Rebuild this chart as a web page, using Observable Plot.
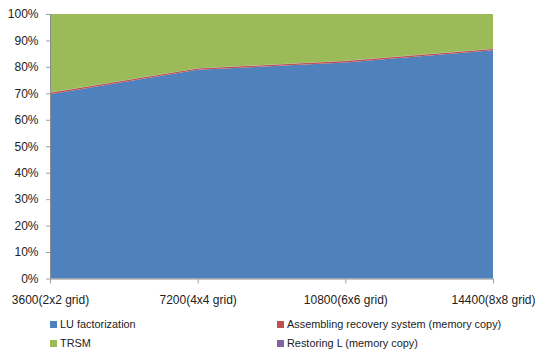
<!DOCTYPE html>
<html>
<head>
<meta charset="utf-8">
<script src="https://cdn.jsdelivr.net/npm/d3@7"></script>
<script src="https://cdn.jsdelivr.net/npm/@observablehq/plot@0.6"></script>
<style>
  body { margin: 0; background: #fff; font-family: "Liberation Sans", Arial, sans-serif; }
  #chart { position: relative; width: 535px; height: 351px; overflow: hidden; }
  #chart svg { position: absolute; left: 0; top: 0; }
  .item { position: absolute; font-size: 10.9px; color: #222; line-height: 14px; white-space: nowrap; display: flex; align-items: center; }
  .swatch { width: 7px; height: 7px; margin-right: 3px; display: inline-block; }
</style>
</head>
<body>
<div id="chart"></div>
<script>
// Problem sizes (matrix order) and their process-grid labels
const problemSizes = [3600, 7200, 10800, 14400];
const sizeLabels = ["3600(2x2 grid)", "7200(4x4 grid)", "10800(6x6 grid)", "14400(8x8 grid)"];

// Phases, in stacking order from the bottom up
const phases = [
  "LU factorization",
  "Assembling recovery system (memory copy)",
  "Restoring L (memory copy)",
  "TRSM"
];
const phaseColors = ["#4F81BD", "#C0504D", "#8064A2", "#9BBB59"];

// Share of total time (%) per phase at each problem size
const luShare = [69.7, 78.9, 81.7, 86.3];
const assemblingShare = [0.5, 0.5, 0.5, 0.5];
const restoringShare = [0.1, 0.1, 0.1, 0.1];
const trsmShare = [29.7, 20.5, 17.7, 13.1];

// Percent ticks on the vertical axis
const percentTicks = [0, 10, 20, 30, 40, 50, 60, 70, 80, 90, 100];

// Long-format table for the stacked area
const shares = [luShare, assemblingShare, restoringShare, trsmShare];
const rows = [];
phases.forEach((phase, p) => {
  problemSizes.forEach((size, i) => rows.push({ phase, size, share: shares[p][i] }));
});
const labelOf = new Map(problemSizes.map((s, i) => [s, sizeLabels[i]]));

const chart = Plot.plot({
  width: 535,
  height: 312,
  marginTop: 14,
  marginBottom: 33.5,
  marginLeft: 50,
  marginRight: 42,
  style: { fontFamily: "'Liberation Sans', Arial, sans-serif", fontSize: "12px", color: "#222", background: "#fff" },
  x: { domain: [3600, 14400] },
  y: { domain: [0, 100] },
  color: { domain: phases, range: phaseColors },
  marks: [
    Plot.areaY(rows, { x: "size", y: "share", fill: "phase", order: phases }),
    Plot.ruleX([3600], { stroke: "#8c8c8c" }),
    Plot.ruleY([0], { stroke: "#8c8c8c" }),
    Plot.axisY({
      ticks: percentTicks,
      tickFormat: d => d + "%",
      tickSize: 4,
      tickPadding: 8,
      stroke: "#a0a0a0",
      fill: "#222",
      label: null
    }),
    Plot.axisX({
      ticks: problemSizes,
      tickFormat: d => labelOf.get(d),
      tickSize: 5,
      tickPadding: 11,
      stroke: "#a0a0a0",
      fill: "#222",
      label: null
    })
  ]
});

const root = document.getElementById("chart");
root.appendChild(chart);

// Two-column legend below the chart
const legendSpots = [
  { phase: phases[0], left: 50, top: 317 },
  { phase: phases[1], left: 277, top: 317 },
  { phase: phases[3], left: 50, top: 336 },
  { phase: phases[2], left: 277, top: 336 }
];
legendSpots.forEach(({ phase, left, top }) => {
  const item = document.createElement("div");
  item.className = "item";
  item.style.left = left + "px";
  item.style.top = top + "px";
  const sw = document.createElement("span");
  sw.className = "swatch";
  sw.style.background = phaseColors[phases.indexOf(phase)];
  const tx = document.createElement("span");
  tx.textContent = phase;
  item.appendChild(sw);
  item.appendChild(tx);
  root.appendChild(item);
});
</script>
</body>
</html>
